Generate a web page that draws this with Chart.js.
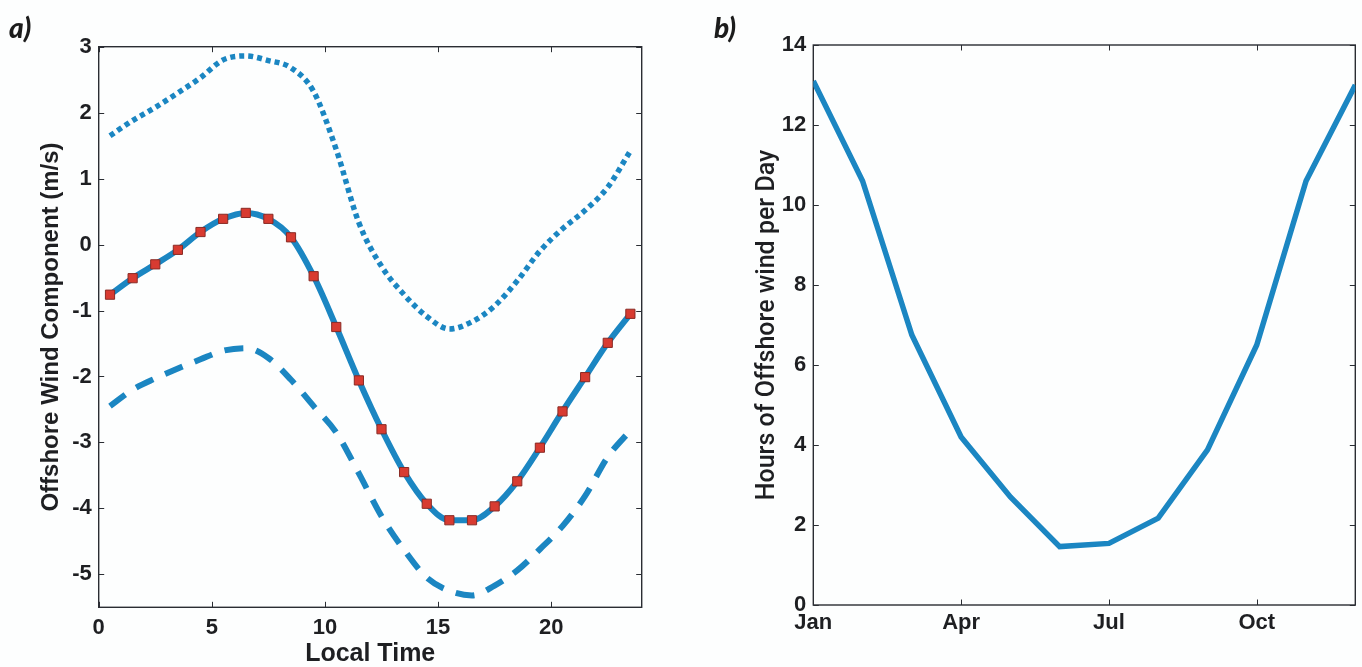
<!DOCTYPE html>
<html>
<head>
<meta charset="utf-8">
<script src="https://cdn.jsdelivr.net/npm/chart.js@4.4.1/dist/chart.umd.min.js"></script>
<style>
  html, body { margin: 0; padding: 0; background: #ffffff; }
  #wrap { position: relative; width: 1362px; height: 667px; overflow: hidden; background: #fdfefe; }
  .panel { position: absolute; top: 0; height: 667px; }
  #p1 { left: 0; width: 680px; }
  #p2 { left: 680px; width: 682px; }
  .tag { position: absolute; font-family: Lato, "Open Sans", sans-serif; font-style: italic; font-weight: 900;
         font-size: 28px; line-height: 28px; color: #1c1c1c; }
</style>
</head>
<body>
<div id="wrap">
  <div class="panel" id="p1"><canvas id="c1" width="680" height="667"></canvas></div>
  <div class="panel" id="p2"><canvas id="c2" width="682" height="667"></canvas></div>
  <div class="tag" style="left:9px; top:13px;">a)</div>
  <div class="tag" style="left:714px; top:13px;">b)</div>
</div>
<script>
// ---- panel a: diurnal offshore wind component ----
const localHours = [0.5, 1.5, 2.5, 3.5, 4.5, 5.5, 6.5, 7.5, 8.5, 9.5, 10.5, 11.5,
                    12.5, 13.5, 14.5, 15.5, 16.5, 17.5, 18.5, 19.5, 20.5, 21.5, 22.5, 23.5];
const meanWind  = [-0.76, -0.51, -0.30, -0.08, 0.19, 0.39, 0.48, 0.39, 0.11, -0.48, -1.25, -2.06,
                   -2.80, -3.45, -3.93, -4.18, -4.18, -3.97, -3.59, -3.08, -2.53, -2.01, -1.49, -1.05];
const upperWind = [1.65, 1.88, 2.08, 2.30, 2.53, 2.80, 2.86, 2.79, 2.68, 2.32, 1.44, 0.33,
                   -0.33, -0.76, -1.09, -1.28, -1.17, -0.93, -0.55, -0.10, 0.24, 0.52, 0.87, 1.42];
const lowerWind = [-2.45, -2.20, -2.03, -1.88, -1.74, -1.61, -1.57, -1.72, -2.05, -2.45, -2.85, -3.47,
                   -4.12, -4.63, -5.05, -5.25, -5.32, -5.17, -4.94, -4.62, -4.27, -3.81, -3.22, -2.82];
const hourTicks = [0, 5, 10, 15, 20];
const windTicks = [-5, -4, -3, -2, -1, 0, 1, 2, 3];

// ---- panel b: offshore hours per day through the year ----
const monthIndex  = [1, 2, 3, 4, 5, 6, 7, 8, 9, 10, 11, 12];
const offshoreHrs = [13.1, 10.6, 6.75, 4.2, 2.7, 1.46, 1.54, 2.17, 3.88, 6.5, 10.6, 13.0];
const monthTicks  = [1, 4, 7, 10];
const monthNames  = {1: 'Jan', 4: 'Apr', 7: 'Jul', 10: 'Oct'};
const hoursTicks  = [0, 2, 4, 6, 8, 10, 12, 14];

const LINE_BLUE = '#1b86c2';
const AXIS_INK = '#2a2d33';
const TEXT_INK = '#1e1f22';

// Box around the plot area with short inward tick marks on all four sides
const frameTicks = {
  id: 'frameTicks',
  beforeDatasetsDraw(chart) {
    const { ctx, chartArea: a, scales } = chart;
    const L = 5.5;
    ctx.save();
    ctx.strokeStyle = AXIS_INK;
    ctx.lineWidth = 1.4;
    ctx.strokeRect(a.left, a.top, a.right - a.left, a.bottom - a.top);
    ctx.lineWidth = 1;
    ctx.beginPath();
    scales.x.ticks.forEach(t => {
      const px = Math.round(scales.x.getPixelForValue(t.value)) + 0.5;
      ctx.moveTo(px, a.bottom); ctx.lineTo(px, a.bottom - L);
      ctx.moveTo(px, a.top);    ctx.lineTo(px, a.top + L);
    });
    scales.y.ticks.forEach(t => {
      const py = Math.round(scales.y.getPixelForValue(t.value)) + 0.5;
      ctx.moveTo(a.left, py);  ctx.lineTo(a.left + L, py);
      ctx.moveTo(a.right, py); ctx.lineTo(a.right - L, py);
    });
    ctx.stroke();
    ctx.restore();
  }
};

const SANS = '"Liberation Sans", Arial, sans-serif';
const tickFont = { family: SANS, size: 22, weight: 'bold' };

function fixedTicks(values) {
  return scale => { scale.ticks = values.map(v => ({ value: v })); };
}

// Panel a
new Chart(document.getElementById('c1'), {
  type: 'line',
  data: {
    datasets: [
      {
        data: localHours.map((h, i) => ({ x: h, y: upperWind[i] })),
        borderColor: LINE_BLUE, borderWidth: 5.5, borderDash: [5, 4], borderCapStyle: 'butt',
        pointRadius: 0, tension: 0.4, cubicInterpolationMode: 'monotone', fill: false
      },
      {
        data: localHours.map((h, i) => ({ x: h, y: lowerWind[i] })),
        borderColor: LINE_BLUE, borderWidth: 6, borderDash: [19, 13], borderCapStyle: 'butt',
        pointRadius: 0, tension: 0.4, cubicInterpolationMode: 'monotone', fill: false
      },
      {
        data: localHours.map((h, i) => ({ x: h, y: meanWind[i] })),
        borderColor: LINE_BLUE, borderWidth: 6, tension: 0.4, cubicInterpolationMode: 'monotone',
        pointStyle: 'rect', pointRadius: 6.5, pointBackgroundColor: '#d83b31',
        pointBorderColor: '#8a2b25', pointBorderWidth: 1, fill: false
      }
    ]
  },
  options: {
    responsive: false, animation: false,
    layout: { padding: { top: 46.7, right: 38.3, left: 0, bottom: 0 } },
    plugins: { legend: { display: false }, tooltip: { enabled: false } },
    scales: {
      x: {
        type: 'linear', min: 0, max: 24,
        afterBuildTicks: fixedTicks(hourTicks),
        afterFit: s => { s.height = 59.7; },
        grid: { display: false, drawTicks: false }, border: { display: false },
        ticks: { font: tickFont, color: TEXT_INK, padding: 7, maxRotation: 0, callback: v => String(v) },
        title: { display: true, text: 'Local Time', font: { family: SANS, size: 25, weight: 'bold', lineHeight: 1 },
                 color: TEXT_INK, padding: { top: 0, bottom: 0 } }
      },
      y: {
        type: 'linear', min: -5.5, max: 3,
        afterBuildTicks: fixedTicks(windTicks),
        afterFit: s => { s.width = 98.7; },
        grid: { display: false, drawTicks: false }, border: { display: false },
        ticks: { font: tickFont, color: TEXT_INK, padding: 7, callback: v => String(v) },
        title: { display: true, text: 'Offshore Wind Component (m/s)', font: { family: SANS, size: 24, weight: 'bold', lineHeight: 1 },
                 color: TEXT_INK, padding: { top: 39, bottom: 0 } }
      }
    }
  },
  plugins: [frameTicks]
});

// Panel b
new Chart(document.getElementById('c2'), {
  type: 'line',
  data: {
    datasets: [{
      data: monthIndex.map((m, i) => ({ x: m, y: offshoreHrs[i] })),
      borderColor: LINE_BLUE, borderWidth: 5.5, tension: 0, pointRadius: 0, fill: false
    }]
  },
  options: {
    responsive: false, animation: false,
    layout: { padding: { top: 45, right: 6.7, left: 0, bottom: 0 } },
    plugins: { legend: { display: false }, tooltip: { enabled: false } },
    scales: {
      x: {
        type: 'linear', min: 1, max: 12,
        afterBuildTicks: fixedTicks(monthTicks),
        afterFit: s => { s.height = 62; },
        grid: { display: false, drawTicks: false }, border: { display: false },
        ticks: { font: tickFont, color: TEXT_INK, padding: 5, maxRotation: 0, callback: v => monthNames[v] || '' }
      },
      y: {
        type: 'linear', min: 0, max: 14,
        afterBuildTicks: fixedTicks(hoursTicks),
        afterFit: s => { s.width = 133.3; },
        grid: { display: false, drawTicks: false }, border: { display: false },
        ticks: { font: tickFont, color: TEXT_INK, padding: 7, callback: v => String(v) },
        title: { display: true, text: 'Hours of Offshore wind per Day',
                 font: { family: 'Roboto, ' + SANS, size: 25, weight: 500, lineHeight: 1 },
                 color: TEXT_INK, padding: { top: 75.5, bottom: 0 } }
      }
    }
  },
  plugins: [frameTicks]
});
</script>
</body>
</html>
